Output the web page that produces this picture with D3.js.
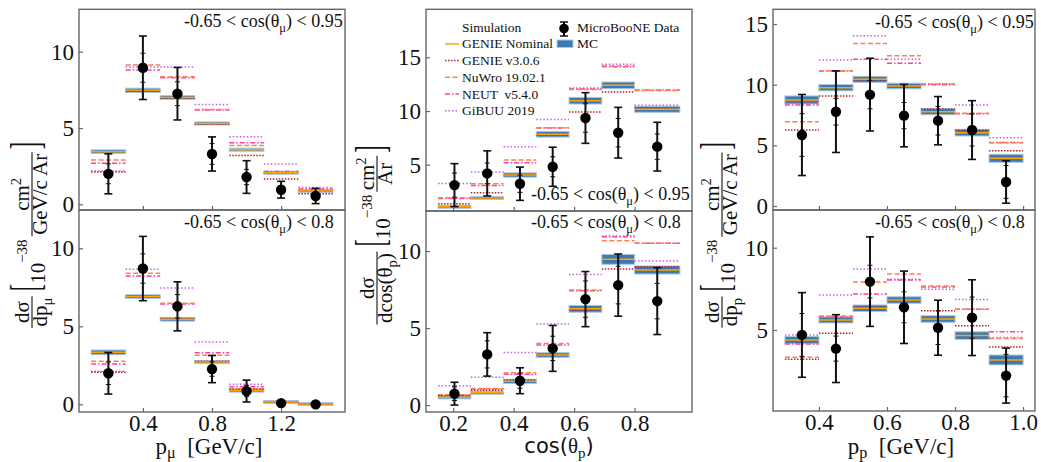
<!DOCTYPE html>
<html lang="en">
<head>
<meta charset="UTF-8">
<title>MicroBooNE differential cross sections</title>
<script src="https://d3js.org/d3.v7.min.js"></script>
<style>
  body { margin: 0; background: #fff; }
  svg text { font-family: "Liberation Serif", "Times New Roman", serif; fill: #111; }
</style>
</head>
<body>
<svg id="chart" width="1041" height="462"></svg>
<script>
// ---- bin edges and ticks ----
const pmuEdges = [0.1, 0.3, 0.5, 0.7, 0.9, 1.1, 1.3, 1.5];
const cospEdges = [0.15, 0.2583, 0.3667, 0.475, 0.5833, 0.6917, 0.8, 0.95];
const ppEdges = [0.3, 0.4, 0.5, 0.6, 0.7, 0.8, 0.9, 1.0];
const pmuTicks = [0.4, 0.8, 1.2];
const cospTicks = [0.2, 0.4, 0.6, 0.8];
const ppTicks = [0.4, 0.6, 0.8, 1.0];

// ---- muon momentum, -0.65 < cos < 0.95 ----
const pmuHiData  = [2.0, 8.95, 7.25, 3.3, 1.79, 0.96, 0.55];
const pmuHiTot   = [1.31, 2.08, 1.72, 1.12, 1.07, 0.55, 0.5];
const pmuHiStat  = [0.65, 0.95, 0.78, 0.68, 0.5, 0.27, 0.22];
const pmuHiMC    = [3.45, 7.47, 7.0, 5.3, 3.58, 2.07, 0.87];
const pmuHiMCErr = [0.12, 0.14, 0.12, 0.1, 0.09, 0.06, 0.04];
const pmuHiV3    = [2.12, 7.42, 6.95, 5.25, 3.2, 1.66, 0.7];
const pmuHiNuwro = [2.9, 9.13, 8.36, 6.22, 3.86, 2.05, 0.92];
const pmuHiNeut  = [2.7, 8.8, 8.3, 6.18, 4.04, 2.16, 1.0];
const pmuHiGibuu = [2.18, 9.0, 9.0, 6.55, 4.43, 2.64, 1.11];

// ---- muon momentum, -0.65 < cos < 0.8 ----
const pmuLoData  = [1.99, 8.7, 6.28, 2.26, 0.85, 0.08, 0.0];
const pmuLoTot   = [1.33, 2.06, 1.57, 0.87, 0.7, 0.06, 0.03];
const pmuLoStat  = [0.72, 0.94, 0.75, 0.46, 0.36, 0.04, 0.02];
const pmuLoMC    = [3.33, 6.9, 5.45, 2.71, 0.88, 0.15, 0.02];
const pmuLoMCErr = [0.15, 0.12, 0.12, 0.08, 0.05, 0.02, 0.01];
const pmuLoV3    = [2.05, 6.86, 5.5, 2.76, 0.96, 0.14, 0.02];
const pmuLoNuwro = [2.76, 8.4, 6.47, 3.14, 0.98, 0.16, 0.03];
const pmuLoNeut  = [2.59, 8.23, 6.43, 3.31, 1.13, 0.17, 0.03];
const pmuLoGibuu = [2.12, 8.65, 7.46, 4.0, 1.28, 0.19, 0.04];

// ---- proton cos(theta), -0.65 < cos < 0.95 ----
const cospHiData  = [3.1, 4.19, 3.23, 4.81, 9.35, 7.98, 6.68];
const cospHiTot   = [2.0, 2.1, 1.55, 1.82, 2.36, 2.36, 2.27];
const cospHiStat  = [1.12, 0.96, 0.81, 0.93, 1.33, 1.32, 1.18];
const cospHiMC    = [1.09, 1.9, 4.04, 7.83, 10.96, 12.39, 10.16];
const cospHiMCErr = [0.06, 0.08, 0.2, 0.26, 0.31, 0.31, 0.28];
const cospHiV3    = [1.37, 2.39, 4.04, 7.8, 9.9, 11.77, 10.28];
const cospHiNuwro = [1.93, 3.23, 5.43, 8.45, 12.0, 14.19, 11.9];
const cospHiNeut  = [1.86, 3.07, 5.19, 8.42, 12.05, 14.13, 11.96];
const cospHiGibuu = [3.26, 4.32, 6.68, 9.22, 12.14, 14.35, 10.53];

// ---- proton cos(theta), -0.65 < cos < 0.8 ----
const cospLoData  = [0.74, 3.29, 1.58, 3.68, 6.88, 7.79, 6.75];
const cospLoTot   = [0.74, 1.41, 0.84, 1.49, 1.79, 2.02, 2.17];
const cospLoStat  = [0.44, 0.88, 0.49, 0.79, 1.18, 1.22, 1.15];
const cospLoMC    = [0.5, 0.8, 1.54, 3.25, 6.25, 9.46, 8.77];
const cospLoMCErr = [0.08, 0.08, 0.14, 0.15, 0.22, 0.32, 0.26];
const cospLoV3    = [0.6, 0.97, 1.62, 3.25, 6.17, 8.83, 8.98];
const cospLoNuwro = [0.67, 1.08, 2.1, 4.0, 7.47, 10.67, 10.5];
const cospLoNeut  = [0.63, 1.04, 2.0, 3.9, 7.42, 10.93, 10.5];
const cospLoGibuu = [1.26, 1.8, 3.42, 5.26, 8.48, 10.97, 9.35];

// ---- proton momentum, -0.65 < cos < 0.95 ----
const ppHiData  = [5.85, 7.77, 9.18, 7.45, 7.03, 6.26, 1.98];
const ppHiTot   = [3.34, 3.36, 3.0, 2.57, 1.99, 2.42, 1.75];
const ppHiStat  = [1.76, 1.1, 1.17, 1.08, 1.18, 1.32, 1.35];
const ppHiMC    = [8.74, 9.75, 10.44, 9.89, 7.77, 6.04, 3.93];
const ppHiMCErr = [0.33, 0.26, 0.25, 0.23, 0.25, 0.27, 0.33];
const ppHiV3    = [6.26, 9.07, 10.38, 9.84, 7.99, 6.26, 4.56];
const ppHiNuwro = [6.95, 11.15, 13.4, 12.39, 10.05, 7.64, 5.22];
const ppHiNeut  = [8.32, 11.13, 12.09, 11.76, 10.0, 7.6, 5.24];
const ppHiGibuu = [8.46, 12.03, 14.04, 12.09, 10.07, 8.32, 5.63];

// ---- proton momentum, -0.65 < cos < 0.8 ----
const ppLoData  = [4.7, 3.87, 7.94, 6.38, 5.14, 5.75, 2.23];
const ppLoTot   = [2.57, 2.06, 2.72, 2.2, 1.67, 2.3, 1.67];
const ppLoStat  = [1.3, 0.76, 0.99, 0.94, 1.02, 1.25, 1.29];
const ppLoMC    = [4.39, 5.61, 6.32, 6.82, 5.67, 4.66, 3.18];
const ppLoMCErr = [0.22, 0.18, 0.2, 0.2, 0.2, 0.23, 0.3];
const ppLoV3    = [3.22, 4.8, 6.38, 6.82, 6.17, 5.26, 3.97];
const ppLoNuwro = [3.34, 5.85, 7.91, 8.4, 7.67, 6.26, 4.49];
const ppLoNeut  = [4.15, 5.81, 7.19, 8.04, 7.62, 6.26, 4.9];
const ppLoGibuu = [4.7, 7.13, 8.7, 8.08, 7.47, 6.86, 4.55];

const noteHi = [['-0.65 < cos(θ', ''], ['μ', 'sub'], [') < 0.95', '']];
const noteLo = [['-0.65 < cos(θ', ''], ['μ', 'sub'], [') < 0.8', '']];

const genStyles = [
  { key: 'gibuu', label: 'GiBUU 2019',    color: '#c060e6', dash: '1.5,2' },
  { key: 'neut',  label: 'NEUT  v5.4.0',  color: '#ff3fa0', dash: '5,2,1.5,2' },
  { key: 'nuwro', label: 'NuWro 19.02.1', color: '#ff7f50', dash: '5,2.5' },
  { key: 'v3',    label: 'GENIE v3.0.6',  color: '#b22222', dash: '1.5,1.5' }
];
const nominalColor = '#ffa500';
const mcFill = '#3d7ab3';
const mcEdge = '#a9c7e3';
const spine = '#666';
const serif = '"Liberation Serif", "Times New Roman", serif';

const panels = [
  { edges: pmuEdges, data: pmuHiData, tot: pmuHiTot, stat: pmuHiStat, mc: pmuHiMC, mcErr: pmuHiMCErr,
    v3: pmuHiV3, nuwro: pmuHiNuwro, neut: pmuHiNeut, gibuu: pmuHiGibuu,
    left: 79, right: 345, top: 9.3, bottom: 210, xDomain: [0.03, 1.57], yDomain: [-0.37, 12.78],
    yTicks: [0, 5, 10], xTicks: pmuTicks, showX: false, note: noteHi, noteX: 184, noteY: 27 },
  { edges: pmuEdges, data: pmuLoData, tot: pmuLoTot, stat: pmuLoStat, mc: pmuLoMC, mcErr: pmuLoMCErr,
    v3: pmuLoV3, nuwro: pmuLoNuwro, neut: pmuLoNeut, gibuu: pmuLoGibuu,
    left: 79, right: 345, top: 210, bottom: 412, xDomain: [0.03, 1.57], yDomain: [-0.49, 12.45],
    yTicks: [0, 5, 10], xTicks: pmuTicks, showX: true, note: noteLo, noteX: 184, noteY: 228 },
  { edges: cospEdges, data: cospHiData, tot: cospHiTot, stat: cospHiStat, mc: cospHiMC, mcErr: cospHiMCErr,
    v3: cospHiV3, nuwro: cospHiNuwro, neut: cospHiNeut, gibuu: cospHiGibuu,
    left: 426, right: 692, top: 9.3, bottom: 211, xDomain: [0.11, 0.99], yDomain: [0.69, 19.47],
    yTicks: [5, 10, 15], xTicks: cospTicks, showX: false, note: noteHi, noteX: 531, noteY: 200 },
  { edges: cospEdges, data: cospLoData, tot: cospLoTot, stat: cospLoStat, mc: cospLoMC, mcErr: cospLoMCErr,
    v3: cospLoV3, nuwro: cospLoNuwro, neut: cospLoNeut, gibuu: cospLoGibuu,
    left: 426, right: 692, top: 211, bottom: 412, xDomain: [0.11, 0.99], yDomain: [-0.45, 12.6],
    yTicks: [0, 5, 10], xTicks: cospTicks, showX: true, note: noteLo, noteX: 531, noteY: 228 },
  { edges: ppEdges, data: ppHiData, tot: ppHiTot, stat: ppHiStat, mc: ppHiMC, mcErr: ppHiMCErr,
    v3: ppHiV3, nuwro: ppHiNuwro, neut: ppHiNeut, gibuu: ppHiGibuu,
    left: 773, right: 1035, top: 9.3, bottom: 210, xDomain: [0.265, 1.035], yDomain: [-0.33, 16.21],
    yTicks: [0, 5, 10, 15], xTicks: ppTicks, showX: false, note: noteHi, noteX: 875, noteY: 28 },
  { edges: ppEdges, data: ppLoData, tot: ppLoTot, stat: ppLoStat, mc: ppLoMC, mcErr: ppLoMCErr,
    v3: ppLoV3, nuwro: ppLoNuwro, neut: ppLoNeut, gibuu: ppLoGibuu,
    left: 773, right: 1035, top: 210, bottom: 411, xDomain: [0.265, 1.035], yDomain: [0.08, 12.29],
    yTicks: [5, 10], xTicks: ppTicks, showX: true, note: noteLo, noteX: 875, noteY: 228 }
];

const svg = d3.select('#chart').style('font-family', serif);

// text with sub/superscript pieces
function rich(parent, segs, size, subShift = 0.25) {
  const t = parent.append('text').style('font-size', size + 'px').style('white-space', 'pre')
    .style('font-family', serif);
  let shift = 0;
  segs.forEach(([s, k]) => {
    const target = k === 'sub' ? subShift * size : k === 'sup' ? -0.4 * size : 0;
    t.append('tspan')
      .attr('dy', target - shift)
      .style('font-size', (k ? 0.7 * size : size) + 'px')
      .text(s);
    shift = target;
  });
  return t;
}

function drawPanel(p) {
  const x = d3.scaleLinear().domain(p.xDomain).range([p.left, p.right]);
  const y = d3.scaleLinear().domain(p.yDomain).range([p.bottom, p.top]);
  const g = svg.append('g');
  const bins = p.mc.map((v, i) => ({ i, lo: p.edges[i], hi: p.edges[i + 1], mid: (p.edges[i] + p.edges[i + 1]) / 2 }));

  // MC uncertainty boxes
  g.selectAll('rect.mc').data(bins).enter().append('rect')
    .attr('x', d => x(d.lo))
    .attr('width', d => x(d.hi) - x(d.lo))
    .attr('y', d => Math.min(y(p.mc[d.i] + p.mcErr[d.i]), y(p.mc[d.i]) - 1.5))
    .attr('height', d => Math.max(y(p.mc[d.i] - p.mcErr[d.i]) - y(p.mc[d.i] + p.mcErr[d.i]), 3))
    .attr('fill', mcFill)
    .attr('stroke', mcEdge)
    .attr('stroke-width', 1);

  // generator predictions
  genStyles.forEach(s => {
    g.selectAll('line.' + s.key).data(bins).enter().append('line')
      .attr('x1', d => x(d.lo)).attr('x2', d => x(d.hi))
      .attr('y1', d => y(p[s.key][d.i])).attr('y2', d => y(p[s.key][d.i]))
      .attr('stroke', s.color)
      .attr('stroke-width', 1.5)
      .attr('stroke-dasharray', s.dash);
  });

  // GENIE nominal
  g.selectAll('line.nom').data(bins).enter().append('line')
    .attr('x1', d => x(d.lo)).attr('x2', d => x(d.hi))
    .attr('y1', d => y(p.mc[d.i])).attr('y2', d => y(p.mc[d.i]))
    .attr('stroke', nominalColor)
    .attr('stroke-width', 1.5);

  // data with stat and total error bars
  const pts = g.selectAll('g.pt').data(bins).enter().append('g');
  pts.append('line')
    .attr('x1', d => x(d.mid)).attr('x2', d => x(d.mid))
    .attr('y1', d => y(p.data[d.i] - p.tot[d.i])).attr('y2', d => y(p.data[d.i] + p.tot[d.i]))
    .attr('stroke', '#111').attr('stroke-width', 2);
  [-1, 1].forEach(sg => {
    pts.append('line')
      .attr('x1', d => x(d.mid) - 4).attr('x2', d => x(d.mid) + 4)
      .attr('y1', d => y(p.data[d.i] + sg * p.tot[d.i])).attr('y2', d => y(p.data[d.i] + sg * p.tot[d.i]))
      .attr('stroke', '#111').attr('stroke-width', 1.6);
    pts.append('line')
      .attr('x1', d => x(d.mid) - 2.5).attr('x2', d => x(d.mid) + 2.5)
      .attr('y1', d => y(p.data[d.i] + sg * p.stat[d.i])).attr('y2', d => y(p.data[d.i] + sg * p.stat[d.i]))
      .attr('stroke', '#111').attr('stroke-width', 1);
  });
  pts.append('circle')
    .attr('cx', d => x(d.mid)).attr('cy', d => y(p.data[d.i]))
    .attr('r', 5.2).attr('fill', '#000');

  // frame
  g.append('rect')
    .attr('x', p.left).attr('y', p.top)
    .attr('width', p.right - p.left).attr('height', p.bottom - p.top)
    .attr('fill', 'none').attr('stroke', spine).attr('stroke-width', 1.4);

  // axes, ticks pointing inward
  const xa = d3.axisBottom(x).tickValues(p.xTicks).tickSize(-4).tickPadding(3)
    .tickFormat(p.showX ? d3.format('.1f') : () => '');
  g.append('g').attr('transform', `translate(0,${p.bottom})`).call(xa)
    .call(s => s.select('.domain').remove());
  const ya = d3.axisLeft(y).tickValues(p.yTicks).tickSize(-4).tickPadding(5).tickFormat(d3.format('d'));
  g.append('g').attr('transform', `translate(${p.left},0)`).call(ya)
    .call(s => s.select('.domain').remove());
  g.selectAll('.tick line').attr('stroke', spine).attr('stroke-width', 1.2);
  g.selectAll('.tick text').style('font-size', '23px')
    .style('font-family', serif).attr('fill', '#111');

  // cut annotation
  rich(g, p.note, 18).attr('x', p.noteX).attr('y', p.noteY);
}

panels.forEach(drawPanel);

// ---- legend (middle upper panel) ----
const leg = svg.append('g');
const legX = 462, legRow = 16.7, legY0 = 31.7;
leg.append('text').attr('x', legX).attr('y', legY0).style('font-size', '13.5px').text('Simulation');
const legItems = [{ label: 'GENIE Nominal', color: nominalColor, dash: null }]
  .concat(genStyles.slice().reverse());
legItems.forEach((s, i) => {
  const yy = legY0 + legRow * (i + 1);
  leg.append('line').attr('x1', legX - 17).attr('x2', legX - 3)
    .attr('y1', yy - 4.5).attr('y2', yy - 4.5)
    .attr('stroke', s.color).attr('stroke-width', 1.5)
    .attr('stroke-dasharray', s.dash);
  leg.append('text').attr('x', legX).attr('y', yy).style('font-size', '13.5px')
    .style('white-space', 'pre').text(s.label);
});
// data marker
leg.append('line').attr('x1', 564).attr('x2', 564).attr('y1', 22).attr('y2', 36)
  .attr('stroke', '#111').attr('stroke-width', 2);
[22, 36].forEach(v => leg.append('line').attr('x1', 560).attr('x2', 568).attr('y1', v).attr('y2', v)
  .attr('stroke', '#111').attr('stroke-width', 1.5));
leg.append('circle').attr('cx', 564).attr('cy', 28.5).attr('r', 4.8).attr('fill', '#000');
leg.append('text').attr('x', 577).attr('y', legY0).style('font-size', '13.5px').text('MicroBooNE Data');
leg.append('rect').attr('x', 557).attr('y', 40).attr('width', 16).attr('height', 7.5)
  .attr('fill', mcFill).attr('stroke', mcEdge).attr('stroke-width', 1);
leg.append('text').attr('x', 577).attr('y', legY0 + legRow).style('font-size', '13.5px').text('MC');

// ---- x labels ----
rich(svg, [['p', ''], ['μ', 'sub'], ['  [GeV/c]', '']], 23, 0.18)
  .attr('x', 209).attr('y', 454).attr('text-anchor', 'middle');
rich(svg, [['p', ''], ['p', 'sub'], ['  [GeV/c]', '']], 23, 0.18)
  .attr('x', 901).attr('y', 454).attr('text-anchor', 'middle');
const cosLab = svg.append('text').attr('x', 559).attr('y', 453).attr('text-anchor', 'middle')
  .style('font-size', '21px');
cosLab.append('tspan').style('font-family', '"DejaVu Sans", sans-serif').text('cos(');
cosLab.append('tspan').text('θ');
cosLab.append('tspan').attr('dy', 4.5).style('font-size', '15px').text('p');
cosLab.append('tspan').attr('dy', -4.5).style('font-family', '"DejaVu Sans", sans-serif').text(')');

// ---- y labels (rotated, built piece by piece) ----
function yLabel(cx, cy, num1, den1, num2, den2) {
  const g = svg.append('g').attr('transform', `translate(${cx},${cy}) rotate(-90)`);
  const inner = g.append('g');
  const F = 21;
  let pos = 0;
  function frac(num, den) {
    const tn = rich(inner, num, F).attr('y', -3);
    const td = rich(inner, den, F).attr('y', 15);
    const w = Math.max(tn.node().getComputedTextLength(), td.node().getComputedTextLength()) + 3;
    tn.attr('x', pos + w / 2).attr('text-anchor', 'middle');
    td.attr('x', pos + w / 2).attr('text-anchor', 'middle');
    inner.append('line').attr('x1', pos).attr('x2', pos + w).attr('y1', 0).attr('y2', 0)
      .attr('stroke', '#111').attr('stroke-width', 1.1);
    pos += w;
  }
  function word(segs, size, yy) {
    const t = rich(inner, segs, size).attr('x', pos).attr('y', yy);
    pos += t.node().getComputedTextLength();
  }
  // tall thin bracket: normal glyph stretched across the label height
  function bracket(ch) {
    const bg = inner.append('g').attr('transform', `translate(${pos},0) scale(1,1.9)`);
    const t = rich(bg, [[ch, '']], 22).attr('x', 0).attr('y', 3.6);
    pos += t.node().getComputedTextLength();
  }
  frac(num1, den1); pos += 5;
  bracket('[');
  word([['10', '']], F, 13);
  word([['−38', '']], 15, -5); pos += 3;
  frac(num2, den2); pos += 3;
  bracket(']');
  inner.attr('transform', `translate(${-pos / 2},0)`);
}
const cm2 = [['cm', ''], ['2', 'sup']];
yLabel(32, 235, [['dσ', '']], [['dp', ''], ['μ', 'sub']], cm2, [['GeV/c Ar', '']]);
yLabel(377, 235, [['dσ', '']], [['dcos(θ', ''], ['p', 'sub'], [')', '']], cm2, [['Ar', '']]);
yLabel(722, 235, [['dσ', '']], [['dp', ''], ['p', 'sub']], cm2, [['GeV/c Ar', '']]);
</script>
</body>
</html>
